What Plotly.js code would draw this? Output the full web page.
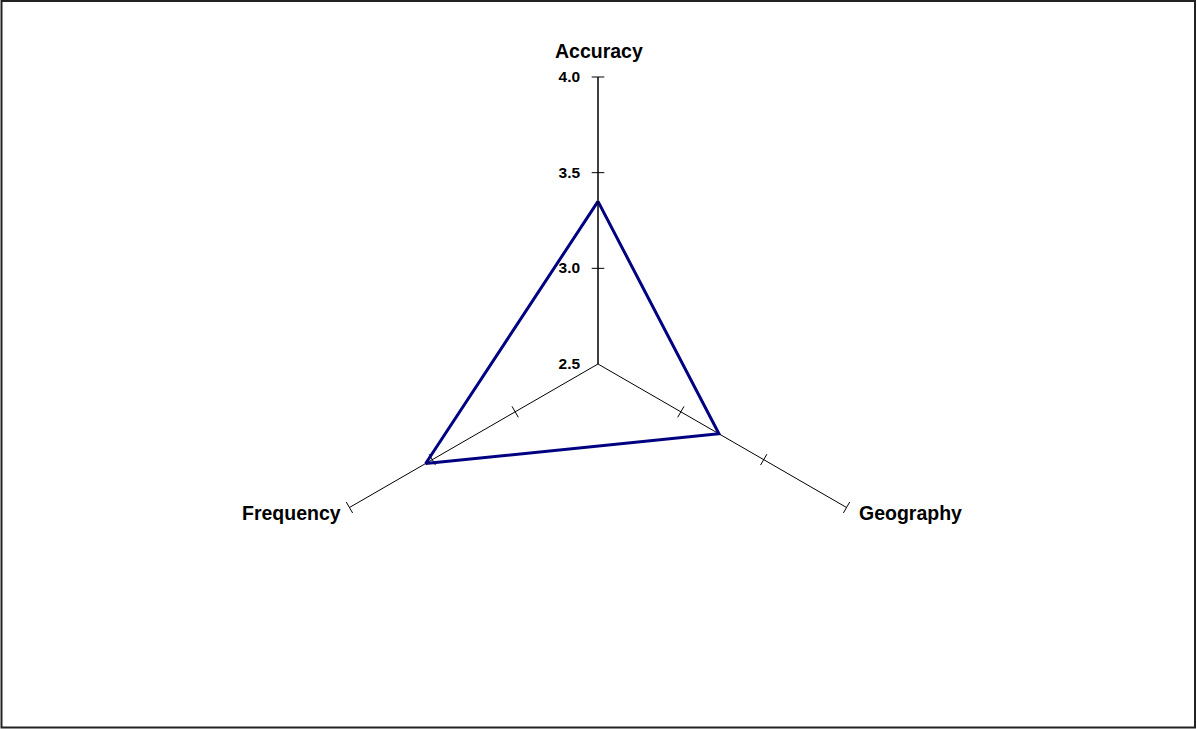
<!DOCTYPE html>
<html>
<head>
<meta charset="utf-8">
<script src="https://cdn.plot.ly/plotly-3.0.1.min.js"></script>
<style>
html,body{margin:0;padding:0;background:#fff;}
#chart{width:1197px;height:729px;}
</style>
</head>
<body>
<div id="chart"></div>
<script>
// ---- data ----
var categories = ["Accuracy", "Geography", "Frequency"];
var values = [3.35, 3.23, 3.54];
var tickValues = [2.5, 3.0, 3.5, 4.0];
var tickLabels = ["2.5", "3.0", "3.5", "4.0"];
var axisMin = 2.5;
var axisMax = 4.0;

// closed polygon
var polyTheta = categories.concat([categories[0]]);
var polyR = values.concat([values[0]]);

// tick marks crossing each spoke (excluding centre)
var tickR = [], tickTheta = [], tickAngle = [];
categories.forEach(function (c, i) {
  tickValues.forEach(function (v) {
    if (v > axisMin) {
      tickR.push(v);
      tickTheta.push(c);
      tickAngle.push(90 + i * 120);
    }
  });
});

var font = "Liberation Sans, Arial, sans-serif";
var W = 1197, H = 729;
var cx = 598, cy = 364, R = 287;

// category labels placed just beyond the end of each spoke
var annotations = categories.map(function (c, i) {
  var a = i * 120 * Math.PI / 180;
  var ex = cx + R * Math.sin(a), ey = cy - R * Math.cos(a);
  var ann = {
    text: "<b>" + c + "</b>", showarrow: false, xref: "paper", yref: "paper",
    font: { family: font, size: 19.5, color: "#000" }, yanchor: "middle"
  };
  if (i === 0) { ann.x = (ex + 1) / W; ann.y = 1 - (ey - 26) / H; ann.xanchor = "center"; }
  else if (Math.sin(a) > 0) { ann.x = (ex + 10) / W; ann.y = 1 - (ey + 5) / H; ann.xanchor = "left"; }
  else { ann.x = (ex - 6) / W; ann.y = 1 - (ey + 5) / H; ann.xanchor = "right"; }
  return ann;
});

var traces = [
  {
    type: "scatterpolar",
    mode: "markers",
    r: tickR,
    theta: tickTheta,
    marker: {
      symbol: "line-ns",
      size: 9,
      angle: tickAngle,
      color: "#000",
      line: { color: "#000", width: 1 }
    },
    cliponaxis: false,
    hoverinfo: "skip",
    showlegend: false
  },
  {
    type: "scatterpolar",
    mode: "lines",
    r: polyR,
    theta: polyTheta,
    line: { color: "#000080", width: 3 },
    cliponaxis: false,
    hoverinfo: "skip",
    showlegend: false
  }
];

var layout = {
  width: W,
  height: H,
  margin: { l: 0, r: 0, t: 0, b: 0 },
  paper_bgcolor: "#fff",
  showlegend: false,
  font: { family: font, color: "#000" },
  polar: {
    domain: { x: [(cx - R) / W, (cx + R) / W], y: [1 - (cy + R) / H, 1 - (cy - R) / H] },
    bgcolor: "#fff",
    radialaxis: {
      range: [axisMin, axisMax],
      tickvals: tickValues,
      ticktext: tickLabels,
      angle: 90,
      side: "counterclockwise",
      showgrid: false,
      showline: true,
      linecolor: "#000",
      linewidth: 1,
      ticks: "outside",
      ticklen: 12,
      tickcolor: "rgba(0,0,0,0)",
      tickangle: 90,
      tickfont: { family: font, size: 15.5, color: "#000", weight: "bold" }
    },
    angularaxis: {
      rotation: 90,
      direction: "clockwise",
      showgrid: true,
      gridcolor: "#000",
      gridwidth: 1,
      showline: false,
      ticks: "",
      showticklabels: false
    }
  },
  annotations: annotations,
  shapes: [
    {
      type: "rect",
      xref: "paper", yref: "paper",
      x0: 1.5 / W, x1: 1195 / W,
      y0: 1 - 727.5 / H, y1: 1 - 1 / H,
      line: { color: "#222", width: 2 },
      fillcolor: "rgba(0,0,0,0)"
    }
  ]
};

Plotly.newPlot("chart", traces, layout, { displayModeBar: false, staticPlot: true });
</script>
</body>
</html>
